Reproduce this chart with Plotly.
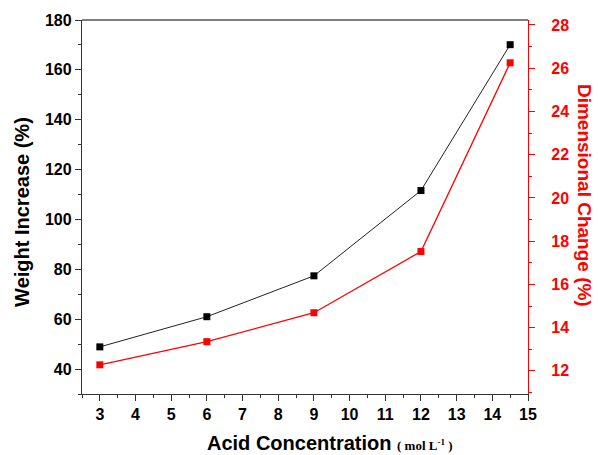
import plotly.graph_objects as go

concentration = [3, 6, 9, 12, 14.5]
weight_increase = [48.9, 61.0, 77.4, 111.6, 170.1]
dimensional_change = [12.28, 13.35, 14.69, 17.52, 26.25]

x_ticks = list(range(3, 16))
y_ticks = [40, 60, 80, 100, 120, 140, 160, 180]
y2_ticks = [12, 14, 16, 18, 20, 22, 24, 26, 28]

FONT = "Liberation Sans, Arial, sans-serif"
SERIF = "Liberation Serif, Times New Roman, serif"

fig = go.Figure()
fig.add_trace(go.Scatter(
    x=concentration, y=weight_increase, mode="lines+markers",
    line=dict(color="#222222", width=1),
    marker=dict(symbol="square", size=7, color="black"),
    showlegend=False, cliponaxis=False))
fig.add_trace(go.Scatter(
    x=concentration, y=dimensional_change, mode="lines+markers", yaxis="y2",
    line=dict(color="#ff0000", width=1.3),
    marker=dict(symbol="square", size=7, color="#ff0000"),
    showlegend=False, cliponaxis=False))

fig.update_layout(
    width=598, height=455,
    margin=dict(l=82, r=70, t=20, b=61),
    paper_bgcolor="white", plot_bgcolor="white",
    font=dict(family=FONT, color="black"),
    xaxis=dict(
        range=[2.5, 15], tickvals=x_ticks, ticks="outside", ticklen=6, tickwidth=1,
        tickcolor="#333", showline=True, linecolor="#333", linewidth=1.3, mirror=False,
        showgrid=False, zeroline=False, automargin=False,
        tickfont=dict(size=16, family=FONT, weight="bold"),
        minor=dict(tickvals=[x + 0.5 for x in range(2, 15)], ticks="outside", ticklen=3, tickcolor="#333"),
    ),
    yaxis=dict(
        range=[30, 180], tickvals=y_ticks, ticks="outside", ticklen=6, tickwidth=1,
        tickcolor="#333", showline=True, linecolor="#333", linewidth=1.3,
        showgrid=False, zeroline=False, automargin=False,
        tickfont=dict(size=16, family=FONT, weight="bold"),
        minor=dict(tickvals=list(range(30, 180, 10)), ticks="outside", ticklen=3, tickcolor="#333"),
    ),
    yaxis2=dict(
        overlaying="y", side="right", range=[10.93, 28.23], tickvals=y2_ticks,
        ticks="outside", ticklen=6, tickwidth=1, tickcolor="#ff0000",
        showline=True, linecolor="#ff0000", linewidth=1.3, showgrid=False, zeroline=False,
        automargin=False, ticklabelstandoff=13,
        tickfont=dict(size=16, family=FONT, weight="bold", color="#ff0000"),
        minor=dict(tickvals=list(range(11, 29, 2)), ticks="outside", ticklen=3, tickcolor="#ff0000"),
    ),
    shapes=[dict(type="line", xref="paper", yref="paper", x0=0, x1=1, y0=1, y1=1,
                 line=dict(color="#555", width=1.3))],
    annotations=[
        dict(text="Acid Concentration <span style='font-family:" + SERIF + ";font-size:13px'>( mol L<sup>-1</sup> )</span>",
             xref="paper", yref="paper", x=0.556, y=-0.131, xanchor="center", yanchor="middle",
             showarrow=False, font=dict(size=20, family=FONT, weight="bold", color="black")),
        dict(text="Weight Increase (%)", textangle=-90,
             xref="paper", yref="paper", x=-0.1345, y=0.487, xanchor="center", yanchor="middle",
             showarrow=False, font=dict(size=20, family=FONT, weight="bold", color="black")),
        dict(text="Dimensional Change (%)", textangle=90,
             xref="paper", yref="paper", x=1.128, y=0.532, xanchor="center", yanchor="middle",
             showarrow=False, font=dict(size=19, family=FONT, weight="bold", color="#ff0000")),
    ],
)

fig.write_html("out.html")
